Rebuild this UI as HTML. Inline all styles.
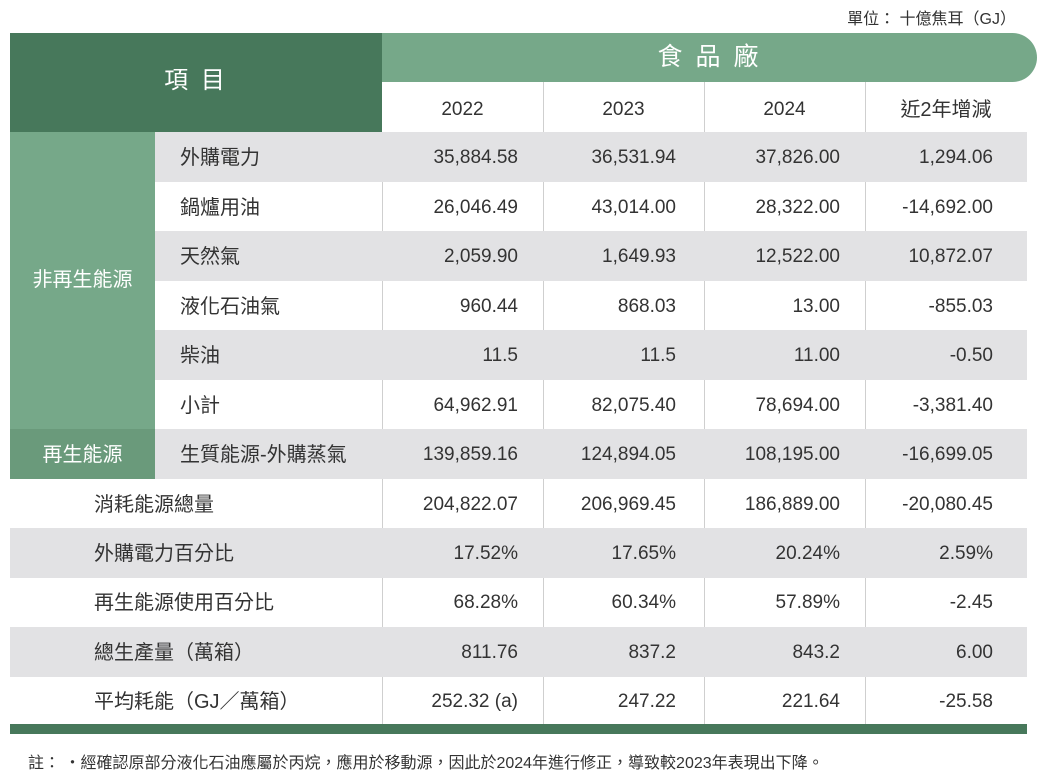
<!DOCTYPE html>
<html><head><meta charset="utf-8"><style>
*{margin:0;padding:0;box-sizing:border-box}
body{width:1038px;height:778px;background:#fff;position:relative;overflow:hidden;font-family:"Liberation Sans","Noto Sans CJK TC",sans-serif;color:#333}
.a{position:absolute}
.r{position:absolute;left:155px;width:872px;height:50px}
.g{background:#e2e2e4}
.lbl{position:absolute;font-size:20px;line-height:52px;color:#333}
.n{position:absolute;font-size:19px;line-height:52px;text-align:right;width:150px;color:#333}
.vl{position:absolute;width:1px;background:#cfcfcf;top:82px;height:642px}
</style></head><body>
<div class="vl" style="left:543px"></div>
<div class="vl" style="left:704px"></div>
<div class="vl" style="left:865px"></div>
<div class="vl" style="left:382px;top:132px;height:592px"></div>
<div class="a" style="right:22px;top:5px;font-size:16px;color:#333">單位： 十億焦耳（GJ）</div>
<div class="a" style="left:10px;top:33px;width:372px;height:99px;background:#47785b"></div>
<div class="a" style="left:10px;top:33px;width:372px;height:99px;line-height:95px;text-align:center;color:#fff;font-size:24px;letter-spacing:3px">項 目</div>
<div class="a" style="left:382px;top:33px;width:655px;height:49px;background:#76a889;border-radius:0 25px 25px 0;color:#fff;font-size:25px;text-align:center;line-height:48px;letter-spacing:3px">食 品 廠</div>
<div class="a" style="left:10px;top:132px;width:145px;height:297px;background:#76a889"></div>
<div class="a" style="left:10px;top:429px;width:145px;height:50px;background:#6a9a7b"></div>
<div class="r g" style="top:132px"></div>
<div class="r g" style="top:231px"></div>
<div class="r g" style="top:330px"></div>
<div class="r g" style="top:429px"></div>
<div class="r g" style="top:528px;left:10px;width:1017px"></div>
<div class="r g" style="top:627px;left:10px;width:1017px"></div>
<div class="a" style="left:10px;top:724px;width:1017px;height:10px;background:#47785b"></div>
<div class="lbl" style="left:10px;width:145px;text-align:center;top:254px;color:#fff">非再生能源</div>
<div class="lbl" style="left:10px;width:145px;text-align:center;top:429px;color:#fff">再生能源</div>
<div class="lbl" style="left:382px;width:161px;text-align:center;top:84px;font-size:19px">2022</div>
<div class="lbl" style="left:543px;width:161px;text-align:center;top:84px;font-size:19px">2023</div>
<div class="lbl" style="left:704px;width:161px;text-align:center;top:84px;font-size:19px">2024</div>
<div class="lbl" style="left:865px;width:162px;text-align:center;top:84px">近2年增減</div>

<div class="lbl" style="left:180px;top:132px">外購電力</div>
<div class="lbl" style="left:180px;top:182px">鍋爐用油</div>
<div class="lbl" style="left:180px;top:231px">天然氣</div>
<div class="lbl" style="left:180px;top:281px">液化石油氣</div>
<div class="lbl" style="left:180px;top:330px">柴油</div>
<div class="lbl" style="left:180px;top:380px">小計</div>
<div class="lbl" style="left:180px;top:429px">生質能源-外購蒸氣</div>
<div class="lbl" style="left:94px;top:479px">消耗能源總量</div>
<div class="lbl" style="left:94px;top:528px">外購電力百分比</div>
<div class="lbl" style="left:94px;top:577px">再生能源使用百分比</div>
<div class="lbl" style="left:94px;top:627px">總生產量（萬箱）</div>
<div class="lbl" style="left:94px;top:676px">平均耗能（GJ／萬箱）</div>

<div id="nums"></div>
<script>
var d=[[132,"35,884.58","36,531.94","37,826.00","1,294.06"],
[182,"26,046.49","43,014.00","28,322.00","-14,692.00"],
[231,"2,059.90","1,649.93","12,522.00","10,872.07"],
[281,"960.44","868.03","13.00","-855.03"],
[330,"11.5","11.5","11.00","-0.50"],
[380,"64,962.91","82,075.40","78,694.00","-3,381.40"],
[429,"139,859.16","124,894.05","108,195.00","-16,699.05"],
[479,"204,822.07","206,969.45","186,889.00","-20,080.45"],
[528,"17.52%","17.65%","20.24%","2.59%"],
[577,"68.28%","60.34%","57.89%","-2.45"],
[627,"811.76","837.2","843.2","6.00"],
[676,"252.32 (a)","247.22","221.64","-25.58"]];
var R=[518,676,840,993],h="";
d.forEach(function(r){for(var i=0;i<4;i++)h+='<div class="n" style="top:'+r[0]+'px;left:'+(R[i]-150)+'px">'+r[i+1]+'</div>';});
document.getElementById("nums").innerHTML=h;
</script>
<div class="a" style="left:28px;top:749px;font-size:16px;color:#333">註：&nbsp;・經確認原部分液化石油應屬於丙烷，應用於移動源，因此於2024年進行修正，導致較2023年表現出下降。</div>
</body></html>
